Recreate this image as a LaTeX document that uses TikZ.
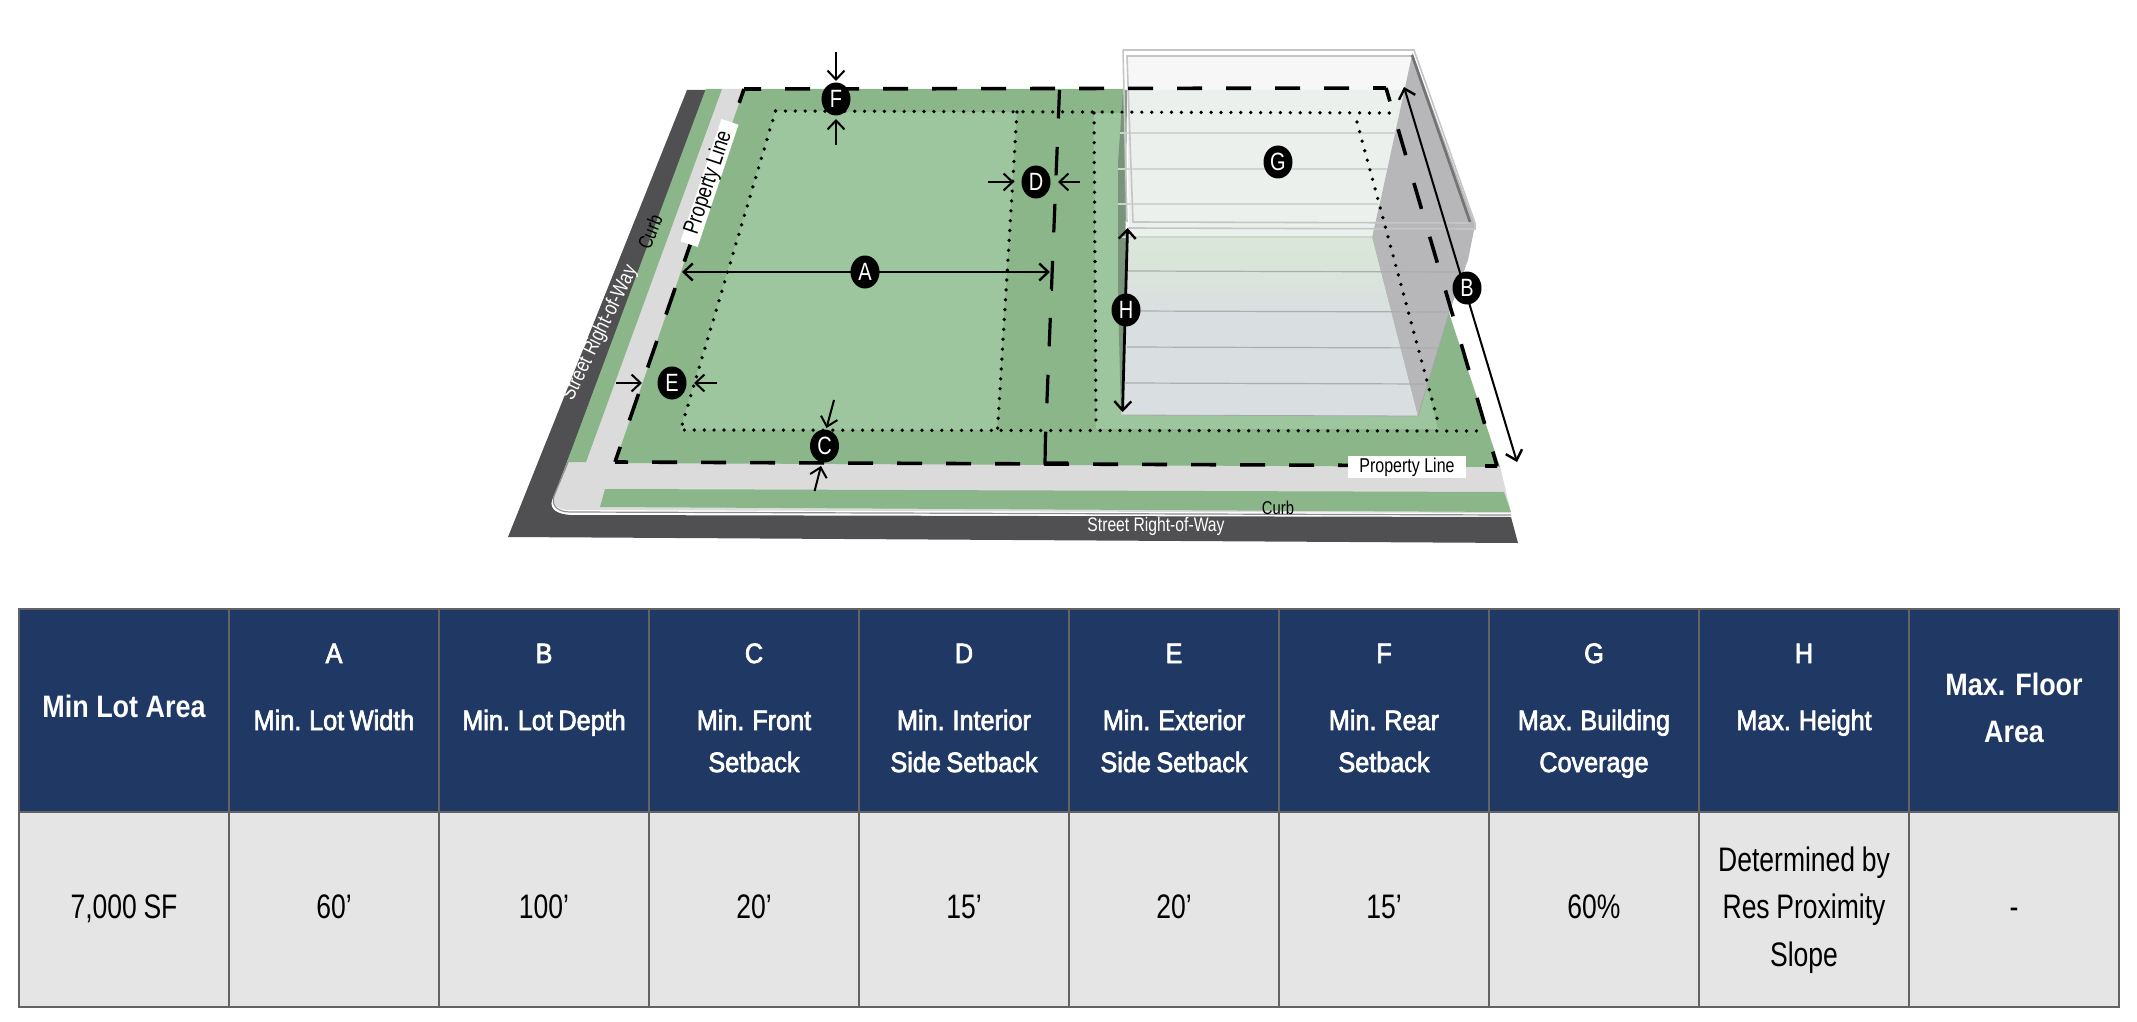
\documentclass[tikz,border=0pt]{standalone}
\usepackage{fontspec}
\usetikzlibrary{arrows.meta,shapes.geometric}
\setmainfont{Liberation Sans}
\newfontfamily\hfont[FakeStretch=0.9,FakeBold=2.5,WordSpace=0.8]{Liberation Sans}
\newfontfamily\bfont[FakeStretch=0.78,WordSpace=0.9]{Liberation Sans}
\newfontfamily\tfont[FakeStretch=0.87]{Liberation Sans Bold}
\newfontfamily\dfont[FakeStretch=0.8]{Liberation Sans}
\definecolor{road}{HTML}{505052}
\definecolor{lotdark}{HTML}{8AB68A}
\definecolor{lotlight}{HTML}{9DC59E}
\definecolor{walk}{HTML}{DBDBDB}
\definecolor{navy}{HTML}{1F3864}
\definecolor{cellgrey}{HTML}{E5E5E5}
\definecolor{rule}{HTML}{636363}
\definecolor{floorline}{HTML}{A9AFAB}
\definecolor{floorpale}{HTML}{D0D5D1}
\definecolor{sideface}{HTML}{B7B7BA}
\definecolor{frame}{HTML}{C4C6C6}
\definecolor{glasstop}{HTML}{F7F7F7}
\definecolor{glassmid}{HTML}{ECF0EC}
\definecolor{glasslowa}{HTML}{DAE7D8}
\definecolor{glasslowb}{HTML}{D9DEE1}
\tikzset{
  badge/.style={ellipse,fill=black,text=white,minimum width=29pt,minimum height=33pt,inner sep=0pt,font=\dfont\fontsize{25}{25}\selectfont},
  lotline/.style={line width=3.6pt,black},
  middash/.style={line width=3.2pt,dash pattern=on 28.5pt off 28.5pt,black},
  dotline/.style={line width=3.7pt,line cap=round,dash pattern=on 0pt off 9.9pt,black},
  dimline/.style={line width=2pt,black,-{Straight Barb[length=9pt,width=17pt,line width=2pt]}},
  dimboth/.style={line width=2.4pt,black,{Straight Barb[length=9pt,width=17pt,line width=2.4pt]}-{Straight Barb[length=9pt,width=17pt,line width=2.4pt]}},
  floorl/.style={line width=1.2pt,floorline},
  floorp/.style={line width=1.2pt,floorpale},
  framel/.style={line width=1.6pt,frame},
  tag/.style={fill=white,inner sep=0pt,minimum width=118pt,minimum height=22pt,font=\dfont\fontsize{20}{20}\selectfont},
  hletter/.style={anchor=base,text=white,font=\hfont\fontsize{28}{28}\selectfont},
  hline/.style={anchor=base,text=white,font=\hfont\fontsize{28}{28}\selectfont},
  hbold/.style={anchor=base,text=white,font=\tfont\fontsize{31}{31}\selectfont},
  bodyt/.style={anchor=base,text=black,font=\bfont\fontsize{34}{34}\selectfont}
}
\begin{document}
\begin{tikzpicture}[x=1pt,y=-1pt]
\useasboundingbox (0,0) rectangle (2137,1022);
% --- ground
\fill[road] (687,90) -- (706,90) -- (568,462) -- (552,500) .. controls (549,510) and (558,514) .. (570,515) -- (1511,517) -- (1518,543) -- (508,537) -- cycle;
\fill[walk] (722,89) -- (744,89) -- (1500,466) -- (1511,513) -- (570,510) .. controls (558,510) and (552,505) .. (554,496) -- (567,462) -- cycle;
\draw[line width=1.2pt,black!45] (706,90) -- (568,462) -- (554,496) .. controls (551,506) and (558,512) .. (570,512) -- (1511,515);
\fill[lotdark] (706,89) -- (722,89) -- (586,462) -- (567,462) -- cycle;
\fill[lotdark] (605,489) -- (1504,492) -- (1511,512) -- (600,507) -- cycle;
\fill[lotdark] (744,89) -- (1130,89) -- (1130,420) -- (1418,416) -- (1449,313) -- (1500,467) -- (615,463) -- cycle;
\fill[lotlight] (775,111) -- (1017,112) -- (997,430) -- (680,430) -- cycle;
\fill[lotlight] (1094,113) -- (1357,113) -- (1438,429) -- (1096,429) -- cycle;
% --- building
\fill[white] (1123,50) -- (1414,50) -- (1412,55) -- (1372,237) -- (1125,237) -- cycle;
\fill[glasstop] (1127,55) -- (1412,55) -- (1405,90) -- (1127,90) -- cycle;
\fill[glassmid] (1127,90) -- (1405,90) -- (1372,237) -- (1129,237) -- cycle;
\shade[top color=glasslowa,bottom color=glasslowb,middle color=glasslowb] (1127,237) -- (1372,237) -- (1418,416) -- (1121,415) -- cycle;
\fill[sideface] (1412.5,53) -- (1475,225) -- (1468,260) -- (1449,313) -- (1418,416) -- (1372.5,237) -- cycle;
\fill[gray!90!green,opacity=.85] (1123,90) -- (1118,163) -- (1118,297) -- (1121,415) -- (1125,297) -- (1127,90) -- cycle;
\foreach \ya/\xa/\yb/\xb in {133/1120/133/1396, 169/1118/169/1387, 204/1118/204/1378, 237/1122/237/1372}
  \draw[floorp] (\xa,\ya) -- (\xb,\yb);
\foreach \ya/\xa/\yb/\xb in {271/1127/272/1459, 311/1127/312/1449, 347/1127/348/1438, 383/1125/384/1428}
  \draw[floorl] (\xa,\ya) -- (\xb,\yb);
\draw[line width=.8pt,black!35] (1122,415) -- (1418,416) -- (1449,313);
% --- frame
\draw[framel] (1123,50) -- (1414,50) -- (1475,223) -- (1475,229) -- (1128,228);
\draw[framel] (1126,56) -- (1412,56);
\draw[framel] (1123,50) -- (1127,222);
\draw[framel] (1127,56) -- (1133,222) -- (1470,223);
\draw[line width=2.6pt,black!55] (1412,55) -- (1470,222);
% --- zoning lines
\draw[dotline] (775.5,111) -- (1393,113);
\draw[dotline] (775.5,111) -- (680.6,430) -- (1482,431);
\draw[dotline] (1017,112) -- (997.5,430);
\draw[dotline] (1094,113) -- (1096,428);
\draw[dotline] (1357,122) -- (1438.6,424);
\draw[middash] (1059.5,90) -- (1045.5,437);
\draw[line width=3.2pt] (1045.5,435) -- (1045,463) -- (1068,463);
\draw[lotline,dash pattern=on 25pt off 24pt,dash phase=12pt] (1386,88) -- (744,89);
\draw[lotline,dash pattern=on 28pt off 28pt,dash phase=12pt] (615,462) -- (744,89);
\draw[lotline,dash pattern=on 25pt off 24pt,dash phase=12pt] (615,462) -- (1497,466);
\draw[lotline,dash pattern=on 27pt off 29pt,dash phase=13pt] (1386,88) -- (1497,466);
% --- labels
\node[tag,rotate=71.5,minimum width=129pt,minimum height=18pt,text height=14pt,text depth=4pt,font=\dfont\fontsize{22.6}{22.6}\selectfont] (propA) at (709.5,183) {Property Line};
\node[tag] (propB) at (1407,467) {Property Line};
\node[font=\dfont\fontsize{20}{20}\selectfont,rotate=68] (curbA) at (650,232) {Curb};
\node[font=\dfont\fontsize{18.5}{18.5}\selectfont] (curbB) at (1278,508) {Curb};
\node[font=\dfont\fontsize{21}{21}\selectfont,text=white,rotate=64] (srwA) at (600,333) {Street Right-of-Way};
\node[font=\dfont\fontsize{19.6}{19.6}\selectfont,text=white] (srwB) at (1156,526) {Street Right-of-Way};
% --- dimension coordinates
\coordinate (f1) at (836,52); \coordinate (f2) at (836,81);
\coordinate (f3) at (836,145); \coordinate (f4) at (836,119);
\coordinate (d1) at (988,182); \coordinate (d2) at (1014,182);
\coordinate (d3) at (1080,182); \coordinate (d4) at (1058,182);
\coordinate (aL) at (682,272); \coordinate (aR) at (1050,272);
\coordinate (aT) at (1052,262); \coordinate (aB) at (1052,291);
\coordinate (e1) at (616,383); \coordinate (e2) at (642,383);
\coordinate (e3) at (717,383); \coordinate (e4) at (694,383);
\coordinate (c1) at (834,400); \coordinate (c2) at (826.5,428);
\coordinate (c3) at (814.6,491); \coordinate (c4) at (821,466);
\coordinate (hT) at (1127.5,228); \coordinate (hB) at (1122.5,412);
\coordinate (bT) at (1404,87); \coordinate (bB) at (1517,462);
\draw[dimline] (f1) -- (f2); \draw[dimline] (f3) -- (f4);
\draw[dimline] (d1) -- (d2); \draw[dimline] (d3) -- (d4);
\draw[dimline] (e1) -- (e2); \draw[dimline] (e3) -- (e4);
\draw[dimline] (c1) -- (c2); \draw[dimline] (c3) -- (c4);
\draw[dimboth] (aL) -- (aR);
\draw[line width=2.4pt] (aT) -- (aB);
\draw[dimboth,line width=2.8pt] (hT) -- (hB);
\draw[dimboth,line width=2pt] (bT) -- (bB);
\node[badge] (A) at (865,272) {A};
\node[badge] (B) at (1467,288) {B};
\node[badge] (C) at (824.5,446) {C};
\node[badge] (D) at (1036,182) {D};
\node[badge] (E) at (672,383) {E};
\node[badge] (F) at (836,99) {F};
\node[badge] (G) at (1278,162) {G};
\node[badge] (H) at (1126,310) {H};
% --- table
\fill[navy] (19,609) rectangle (2119,812);
\fill[cellgrey] (19,812) rectangle (2119,1007);
\draw[rule,line width=2.4pt] (19,609) rectangle (2119,1007);
\draw[rule,line width=2.4pt] (19,812) -- (2119,812);
\foreach \vx in {229,439,649,859,1069,1279,1489,1699,1909}
  \draw[rule,line width=2pt] (\vx,609) -- (\vx,1007);
\node[hbold] (h0) at (124,717) {Min Lot Area};
\foreach \cx/\ltr/\na in {334/A/Min. Lot Width,544/B/Min. Lot Depth,1804/H/Max. Height}{
  \node[hletter] (let\ltr) at (\cx,663) {\ltr};
  \node[hline] (lab\ltr) at (\cx,730) {\na};
}
\foreach \cx/\ltr/\na/\nb in {754/C/Min. Front/Setback,964/D/Min. Interior/Side Setback,1174/E/Min. Exterior/Side Setback,1384/F/Min. Rear/Setback,1594/G/Max. Building/Coverage}{
  \node[hletter] (let\ltr) at (\cx,663) {\ltr};
  \node[hline] (lab\ltr) at (\cx,730) {\na};
  \node[hline] (sub\ltr) at (\cx,772) {\nb};
}
\node[hbold] (mf1) at (2014,695) {Max. Floor};
\node[hbold] (mf2) at (2014,742) {Area};
\foreach \cx/\nm/\val in {124/a/{7,000 SF},334/b/60’,544/c/100’,754/d/20’,964/e/15’,1174/f/20’,1384/g/15’,1594/h/60\%,2014/i/-}
  \node[bodyt] (v\nm) at (\cx,918) {\val};
\node[bodyt] (vj1) at (1804,871) {Determined by};
\node[bodyt] (vj2) at (1804,918) {Res Proximity};
\node[bodyt] (vj3) at (1804,966) {Slope};
\end{tikzpicture}
\end{document}
